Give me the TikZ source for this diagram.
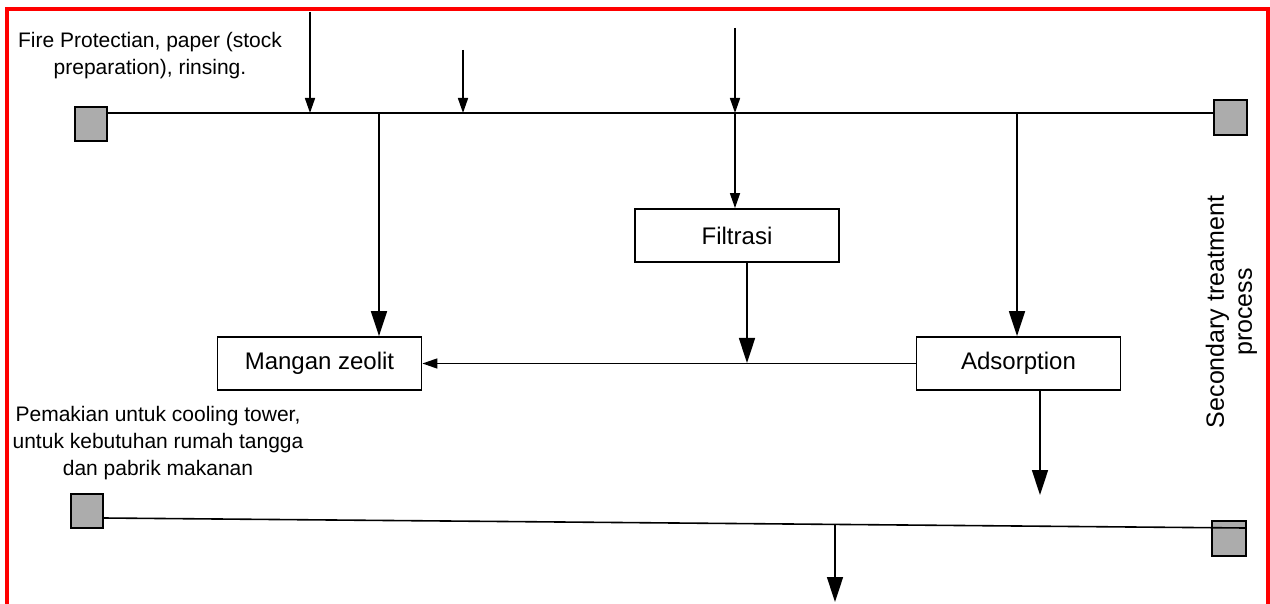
\documentclass[tikz,border=0pt]{standalone}
\usepackage{fontspec}
\setmainfont{Liberation Sans}
\usetikzlibrary{arrows.meta}
\tikzset{
  px/.style={x=0.5pt,y=-0.5pt},
  line/.style={draw=black,line width=0.8pt},
  small/.style={line,-{Triangle[length=7.5pt,width=5pt]}},
  big/.style={line,-{Triangle[length=12.5pt,width=8pt]}},
  procbox/.style={draw=black,line width=0.9pt,fill=white,minimum width=102pt,minimum height=26.5pt,inner sep=0pt,font=\fontsize{12}{14}\selectfont},
  tank/.style={draw=black,line width=0.9pt,fill=gray!65,inner sep=0pt},
  note/.style={align=center,font=\fontsize{10.5}{13.5}\selectfont,inner sep=0pt},
  frame/.style={draw=red,line width=2pt}
}
\begin{document}
\begin{tikzpicture}[px]
\useasboundingbox (0,0) rectangle (1270,604);
\draw[frame] (7,604) -- (7,9) -- (1268,9) -- (1268,604);

% tanks
\node[tank,minimum width=16pt,minimum height=17pt] (lsq1) at (91,124) {};
\node[tank,minimum width=16.5pt,minimum height=17.5pt] (rsq1) at (1230.5,117.5) {};
\node[tank,minimum width=16pt,minimum height=17pt] (lsq2) at (87,511) {};
\node[tank,minimum width=17pt,minimum height=17.5pt] (rsq2) at (1229,538.5) {};

% process boxes
\node[procbox] (filtrasi) at (737,235.5) {Filtrasi};
\node[procbox] (mangan) at (319.5,363.5) {Mangan zeolit};
\node[procbox] (adsorp) at (1018.5,363.5) {Adsorption};

% texts
\node[note] (fire) at (150,56) {Fire Protectian, paper (stock\\preparation), rinsing.};
\node[note] (pemakian) at (158,443.5) {Pemakian untuk cooling tower,\\untuk kebutuhan rumah tangga\\dan pabrik makanan};
\node[align=center,inner sep=0pt,rotate=90,font=\fontsize{12.5}{14}\selectfont] (secondary) at (1231.5,312) {Secondary treatment\\process};

% coordinates
\coordinate (s1) at (310,12);
\coordinate (j1) at (310,113);
\coordinate (s2) at (463,50);
\coordinate (j2) at (463,113);
\coordinate (s3) at (735,28);
\coordinate (j3) at (735,113);
\coordinate (j4) at (379,113);
\coordinate (j5) at (1017,113);
\coordinate (j6) at (747,363);
\coordinate (e1) at (1040,495);
\coordinate (b1) at (103,518);
\coordinate (b2) at (1245,528);
\coordinate (j7) at (835,524.4);
\coordinate (e2) at (835,602);

% top header line
\draw[line] (lsq1.east |- j1) -- (rsq1.west |- j1);
\draw[small] (s1) -- (j1);
\draw[small] (s2) -- (j2);
\draw[small] (s3) -- (j3);
\draw[small] (j3) -- (j3 |- filtrasi.north);
\draw[big] (j4) -- (j4 |- mangan.north);
\draw[big] (j5) -- (j5 |- adsorp.north);

% middle
\draw[big] (j6 |- filtrasi.south) -- (j6);
\draw[small] (adsorp.west) -- (mangan.east);
\draw[big] (e1 |- adsorp.south) -- (e1);

% bottom line
\draw[line] (b1) -- (b2);
\draw[big] (j7) -- (e2);
\end{tikzpicture}
\end{document}
